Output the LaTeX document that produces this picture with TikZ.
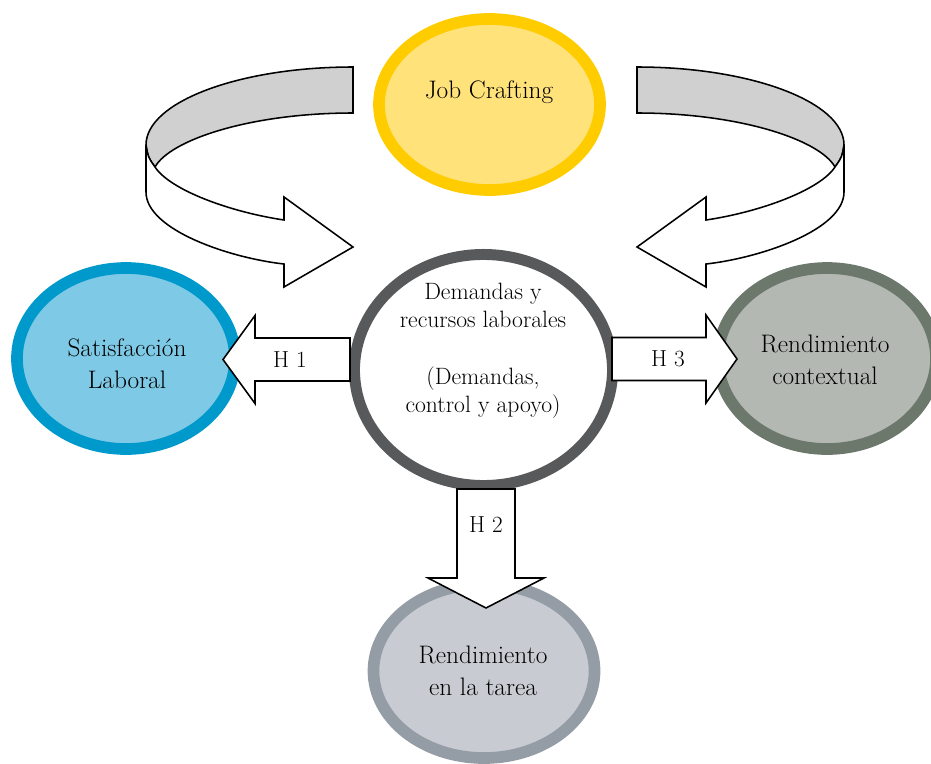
\documentclass[tikz,border=0pt]{standalone}
\usepackage{tikz}
\usepackage{xcolor}
\usetikzlibrary{shapes,arrows,positioning,calc}
\definecolor{jobcolor}{RGB}{255,226,122}
\definecolor{jobborder}{RGB}{255,204,0}
\definecolor{satcolor}{RGB}{126,201,229}
\definecolor{satborder}{RGB}{0,153,204}
\definecolor{ctxcolor}{RGB}{179,184,178}
\definecolor{ctxborder}{RGB}{109,120,109}
\definecolor{taskcolor}{RGB}{200,204,210}
\definecolor{taskborder}{RGB}{148,156,166}
\definecolor{jdrborder}{RGB}{88,89,91}
\definecolor{ribbongray}{RGB}{208,208,208}

\begin{document}
\begin{tikzpicture}[x=0.025cm,y=-0.025cm,
    ring/.style={ellipse,inner sep=0pt,line width=8.3pt},
    txt/.style={align=center,font=\fontsize{18}{22.8}\selectfont},
    outline/.style={draw=black,line width=1.1pt,line join=miter}]
    \useasboundingbox (0,0) rectangle (931,763);

    % Outer constructs
    \node[ring,draw=jobborder,fill=jobcolor,minimum width=5.525cm,minimum height=4.275cm] (jobc) at (489.5,104.5) {};
    \node[ring,draw=satborder,fill=satcolor,minimum width=5.45cm,minimum height=4.525cm] (sat) at (126,358.5) {};
    \node[ring,draw=ctxborder,fill=ctxcolor,minimum width=5.45cm,minimum height=4.525cm] (ctx) at (827,358.5) {};
    \node[ring,draw=taskborder,fill=taskcolor,minimum width=5.525cm,minimum height=4.35cm] (task) at (484,671) {};

    % Central construct
    \node[ring,draw=jdrborder,fill=white,line width=7.8pt,minimum width=6.45cm,minimum height=5.775cm] (jdr) at (483.5,370) {};

    \node[txt] (jobtxt) at (489,92) {Job Crafting};
    \node[txt] (sattxt) at (127,364) {Satisfacción\\Laboral};
    \node[txt] (ctxtxt) at (825,360) {Rendimiento\\contextual};
    \node[txt] (tasktxt) at (483,670.5) {Rendimiento\\en la tarea};
    \node[txt,font=\fontsize{16.8}{19.9}\selectfont] (jdrtxt) at (483,351)
        {Demandas y\\recursos laborales\\[0.725cm](Demandas,\\control y apoyo)};

    % Hypothesis arrows
    \foreach \nm/\px/\py/\ang/\len/\sw/\hw/\hl/\ld/\txt in
        {h1/350/359.5/180/127/21.5/44/32/60/H 1,
         h3/612/359/0/125/21.5/44/31/56/H 3,
         h2/486/489/-90/119/29/58/30/36/H 2}{
        \begin{scope}[shift={(\px,\py)},rotate=\ang]
            \filldraw[outline,fill=white] (0,-\sw) -- ({\len-\hl},-\sw) -- ({\len-\hl},-\hw) -- (\len,0)
                -- ({\len-\hl},\hw) -- ({\len-\hl},\sw) -- (0,\sw) -- cycle;
            \node[font=\fontsize{16.5}{19}\selectfont] (\nm) at (\ld,0) {\txt};
        \end{scope}
    }

    % Curved ribbons (mirrored)
    \foreach \side in {1,-1}{
        \begin{scope}[shift={(495,0)},xscale=\side]
            \filldraw[outline,fill=ribbongray] (-142,67) .. controls (-256,67) and (-349,102) .. (-349,145)
                .. controls (-347,157) .. (-340,167)
                .. controls (-325,140) and (-245,113) .. (-142,113) -- cycle;
            \filldraw[outline,fill=white] (-349,145) -- (-349,192)
                .. controls (-349,230) and (-265,258) .. (-211,264)
                -- (-211,287) -- (-142,247) -- (-211,197) -- (-211,220)
                .. controls (-265,212) and (-325,190) .. (-340,167)
                .. controls (-347,157) .. (-349,145) -- cycle;
        \end{scope}
    }
\end{tikzpicture}
\end{document}
